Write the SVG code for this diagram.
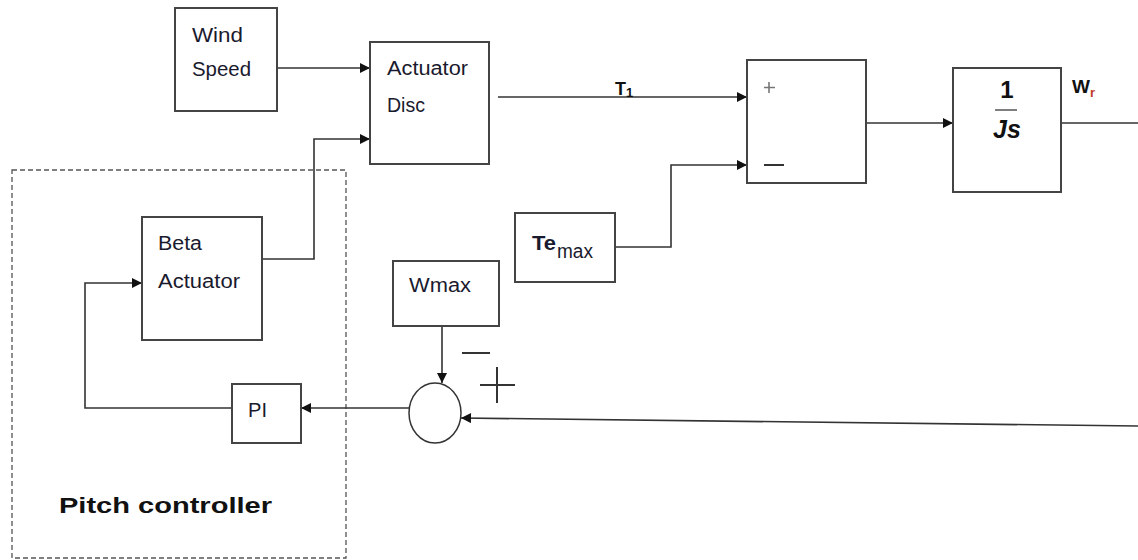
<svg xmlns="http://www.w3.org/2000/svg" width="1138" height="560" viewBox="0 0 1138 560">
<style>
.box{fill:#fff;stroke:#444;stroke-width:2}
.ln{fill:none;stroke:#333;stroke-width:1.6}
.t{font-family:"Liberation Sans",Arial,sans-serif;font-size:20px;fill:#1a1a2e}
.b{font-family:"Liberation Sans",Arial,sans-serif;font-weight:bold;fill:#111}
.sg{fill:none;stroke:#333;stroke-width:2}
</style>
<defs>
<marker id="ah" viewBox="0 0 10 10" refX="10" refY="5" markerWidth="11" markerHeight="10" markerUnits="userSpaceOnUse" orient="auto">
<path d="M0,0 L10,5 L0,10 Z" fill="#111"/>
</marker>
</defs>
<rect x="12" y="170" width="334" height="388" fill="none" stroke="#555" stroke-width="1.3" stroke-dasharray="5,3"/>
<g id="connectors">
<line class="ln" x1="277" y1="68" x2="370" y2="68" marker-end="url(#ah)"/>
<polyline class="ln" points="262,259 314,259 314,139 370,139" marker-end="url(#ah)"/>
<line class="ln" x1="498" y1="97" x2="747" y2="97" marker-end="url(#ah)"/>
<polyline class="ln" points="615,247 671,247 671,165 747,165" marker-end="url(#ah)"/>
<line class="ln" x1="866" y1="123" x2="953" y2="123" marker-end="url(#ah)"/>
<line class="ln" x1="1061" y1="123" x2="1138" y2="123"/>
<line class="ln" x1="442" y1="326" x2="442" y2="383" marker-end="url(#ah)"/>
<line class="ln" x1="1138" y1="426" x2="461" y2="418" marker-end="url(#ah)"/>
<line class="ln" x1="409" y1="408" x2="301" y2="408" marker-end="url(#ah)"/>
<polyline class="ln" points="232,408 85,408 85,283 142,283" marker-end="url(#ah)"/>
</g>
<g id="wind-speed">
<rect class="box" x="175" y="8" width="102" height="103"/>
<text class="t" x="192" y="42" textLength="51" lengthAdjust="spacingAndGlyphs">Wind</text>
<text class="t" x="192" y="76" textLength="59" lengthAdjust="spacingAndGlyphs">Speed</text>
</g>
<g id="actuator-disc">
<rect class="box" x="370" y="42" width="119" height="122"/>
<text class="t" x="387" y="75" textLength="81" lengthAdjust="spacingAndGlyphs">Actuator</text>
<text class="t" x="387" y="112" textLength="38" lengthAdjust="spacingAndGlyphs">Disc</text>
</g>
<g id="t1-label">
<text class="b" x="615" y="95" font-size="18">T<tspan font-size="13" dy="2">1</tspan></text>
</g>
<g id="sum">
<rect class="box" x="747" y="60" width="119" height="123"/>
<path d="M769,82 V93 M764,87.5 H775" stroke="#777" stroke-width="1.6" fill="none"/>
<line x1="764" y1="165" x2="784" y2="165" stroke="#333" stroke-width="2"/>
</g>
<g id="inertia">
<rect class="box" x="953" y="68" width="108" height="124"/>
<text class="b" x="1007" y="98" font-size="24" text-anchor="middle" fill="#1a1a3a">1</text>
<line x1="995" y1="110" x2="1017" y2="110" stroke="#555" stroke-width="1.5"/>
<text class="b" x="1007" y="138" font-size="25" text-anchor="middle" font-style="italic" fill="#1a1a3a">Js</text>
</g>
<g id="wr-label">
<text class="b" x="1072" y="93" font-size="19">W<tspan font-size="13" dy="4" fill="#c0392b">r</tspan></text>
</g>
<g id="te-max">
<rect class="box" x="515" y="213" width="100" height="69"/>
<text class="t" x="532" y="250" font-size="24" textLength="24" lengthAdjust="spacingAndGlyphs" font-weight="bold">Te</text>
<text class="t" x="557" y="258" font-size="16" textLength="36" lengthAdjust="spacingAndGlyphs">max</text>
</g>
<g id="wmax">
<rect class="box" x="393" y="261" width="106" height="65"/>
<text class="t" x="409" y="292" textLength="62" lengthAdjust="spacingAndGlyphs">Wmax</text>
</g>
<g id="sum2">
<ellipse cx="435" cy="413" rx="26" ry="30" fill="#fff" stroke="#333" stroke-width="1.5"/>
<line class="sg" x1="462" y1="353" x2="490" y2="353"/>
<path class="sg" d="M480,385 H515 M497,367 V403"/>
</g>
<g id="pi">
<rect class="box" x="232" y="384" width="69" height="59"/>
<text class="t" x="248" y="417" textLength="19" lengthAdjust="spacingAndGlyphs">PI</text>
</g>
<g id="beta-actuator">
<rect class="box" x="142" y="217" width="120" height="123"/>
<text class="t" x="158" y="250" textLength="44" lengthAdjust="spacingAndGlyphs">Beta</text>
<text class="t" x="158" y="288" textLength="82" lengthAdjust="spacingAndGlyphs">Actuator</text>
</g>
<g id="pitch-label">
<text class="b" x="59" y="513" font-size="22" textLength="213" lengthAdjust="spacingAndGlyphs">Pitch controller</text>
</g>
</svg>
